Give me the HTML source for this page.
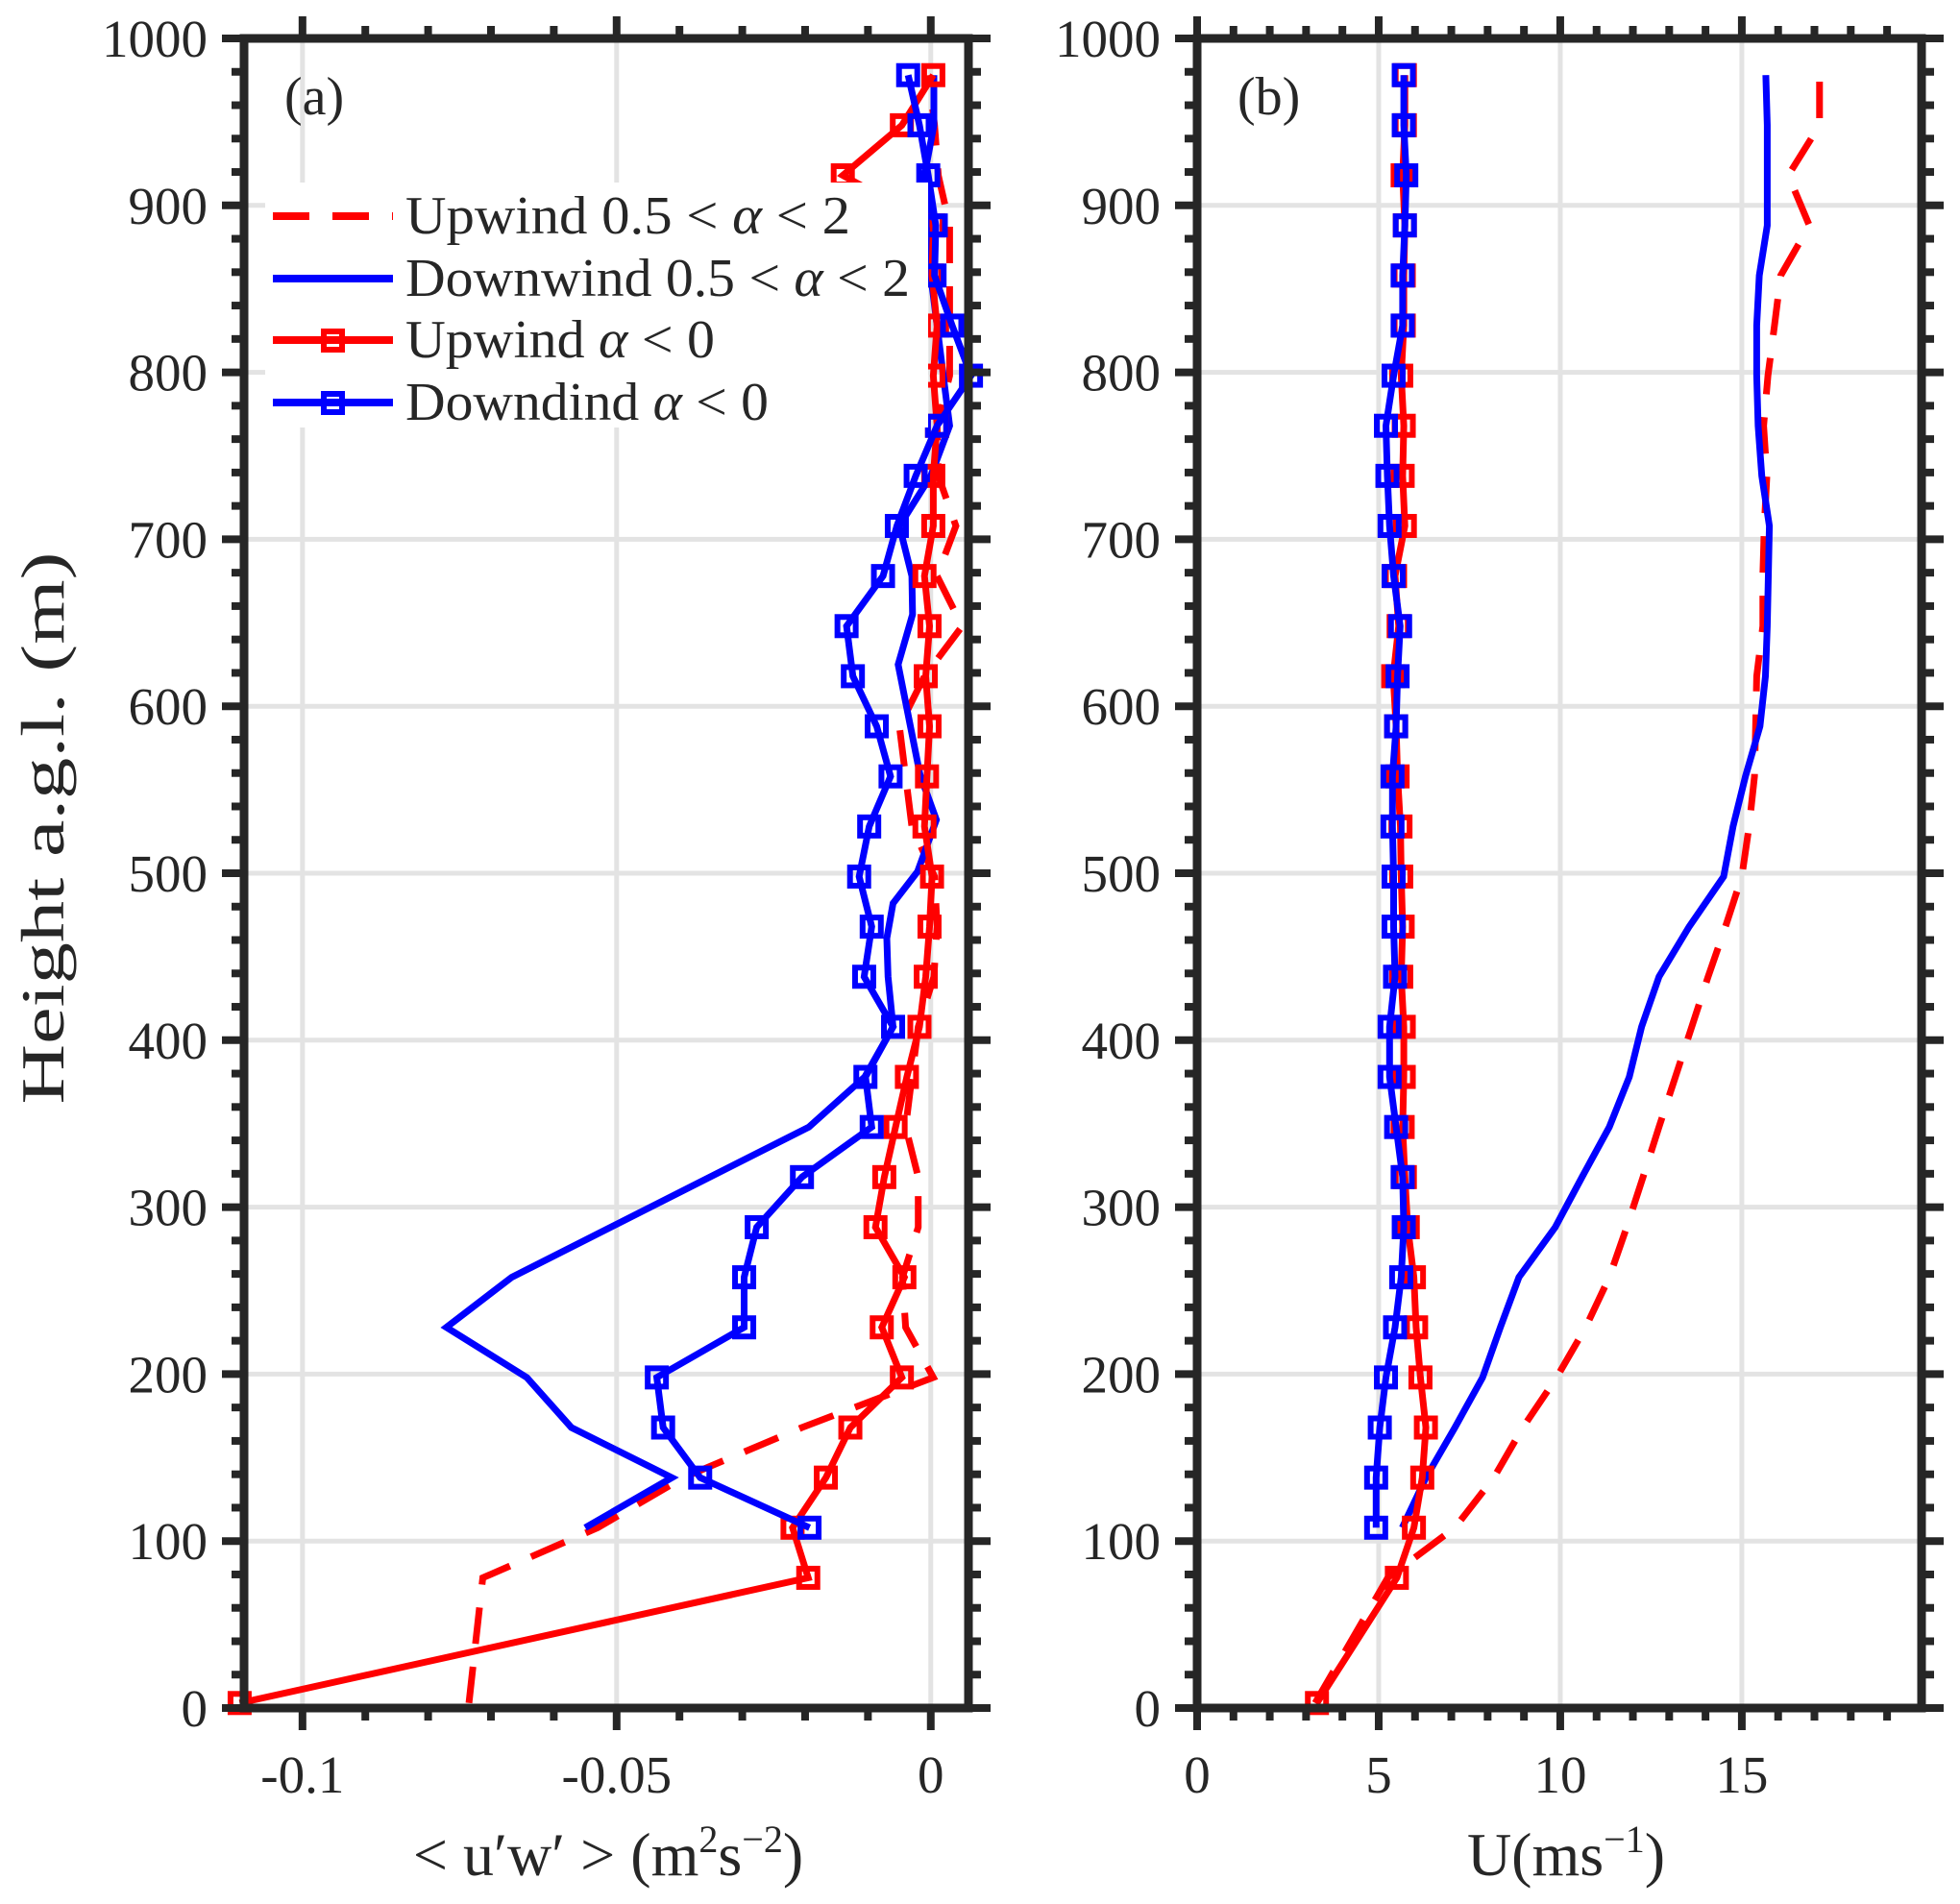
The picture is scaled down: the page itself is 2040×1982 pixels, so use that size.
<!DOCTYPE html>
<html><head><meta charset="utf-8"><style>
html,body{margin:0;padding:0;background:#fff}
svg{display:block}
text{font-family:"Liberation Serif",serif;fill:#262626}
</style></head><body>
<svg id="chart" width="2040" height="1982" viewBox="0 0 2040 1982" xmlns="http://www.w3.org/2000/svg"></svg>
<script>
// ---- data ----
const hMark = [3,78,108,138,168,198,228,258,288,318,348,378,408,438,468,498,528,558,588,618,648,678,708,738,768,798,828,858,888,918,948,978];
const hDown = [108,138,168,198,228,258,288,318,348,378,408,438,468,498,528,558,588,618,648,678,708,738,768,798,828,858,888,918,948,978];
const hSolidA = [108,138,168,198,228,258,348,378,408,438,461,482,501,532,559,625,655,678,708,738,768,798,828,858,888,918,948,978];
const hDashA = [3,78,108,138,168,198,228,258,288,318,348,378,408,438,468,498,528,558,588,618,648,678,708,738,768,798,828,858,888,918,948,978];
// panel a: <u'w'>
const aUpMark = [-0.110,-0.0195,-0.022,-0.0167,-0.0128,-0.0046,-0.0078,-0.0042,-0.0088,-0.0074,-0.0056,-0.0038,-0.0018,-0.0008,-0.0002,0.0002,-0.001,-0.0006,-0.0002,-0.0008,-0.0002,-0.001,0.0004,0.0004,0.001,0.0004,0.001,0.0002,0.0004,-0.014,-0.0046,0.0004];
const aDownMark = [-0.0193,-0.0367,-0.0426,-0.0436,-0.0297,-0.0297,-0.0277,-0.0205,-0.0094,-0.0104,-0.006,-0.0106,-0.0094,-0.0114,-0.0098,-0.0064,-0.0086,-0.0124,-0.0134,-0.0076,-0.0054,-0.0024,0.001,0.0064,0.0034,0.0006,0.0008,-0.0004,-0.0018,-0.0036];
const aDownSolid = [-0.055,-0.0412,-0.0572,-0.0643,-0.0771,-0.0667,-0.0194,-0.0105,-0.006,-0.0068,-0.007,-0.006,-0.0021,0.0009,-0.0017,-0.0052,-0.0029,-0.003,-0.005,0.0,0.003,0.002,0.001,0.0,-0.0003,-0.001,0.0005,0.0005];
const aUpDash = [-0.0735,-0.0713,-0.053,-0.0394,-0.0205,0.0004,-0.004,-0.0045,-0.002,-0.002,-0.004,-0.003,-0.002,0.0005,0.001,0.0006,-0.003,-0.004,-0.005,-0.001,0.005,0.001,0.004,0.0012,0.001,0.003,0.003,0.003,0.003,0.0012,0.0006,-0.0003];
// panel b: U
const bUpMark = [3.3,5.5,5.97,6.2,6.3,6.15,6.03,5.97,5.8,5.72,5.66,5.69,5.69,5.62,5.66,5.62,5.6,5.52,5.48,5.4,5.55,5.45,5.72,5.66,5.69,5.62,5.69,5.69,5.72,5.66,5.72,5.72];
const bDownMark = [4.93,4.93,5.03,5.2,5.45,5.62,5.69,5.66,5.48,5.3,5.3,5.45,5.41,5.41,5.38,5.38,5.48,5.52,5.59,5.41,5.3,5.24,5.2,5.41,5.66,5.66,5.72,5.76,5.69,5.69];
const bDownSolid = [5.65,6.3,7.1,7.86,8.35,8.86,9.86,10.6,11.35,11.9,12.24,12.72,13.55,14.5,14.76,15.1,15.5,15.65,15.7,15.73,15.76,15.55,15.45,15.41,15.41,15.48,15.7,15.7,15.7,15.66];
const bUpDash = [3.25,5.25,7.1,8.17,8.97,9.9,10.7,11.35,11.83,12.28,12.72,13.17,13.62,14.07,14.55,15.0,15.2,15.35,15.38,15.41,15.58,15.58,15.62,15.69,15.6,15.72,15.9,16.07,16.86,16.28,17.14,17.14];
const yTicks = [0,100,200,300,400,500,600,700,800,900,1000];
const aTicks = [-0.1,-0.05,0];
const aTickLabels = ["-0.1","-0.05","0"];
const bTicks = [0,5,10,15];
const bTickLabels = ["0","5","10","15"];

const NS="http://www.w3.org/2000/svg";
const svg=document.getElementById('chart');
function mk(tag,attrs,parent){const e=document.createElementNS(NS,tag);for(const k in attrs)e.setAttribute(k,attrs[k]);(parent||svg).appendChild(e);return e;}

const Y0=1778, Y1=40;
function yS(h){return Y0+(Y1-Y0)*h/1000;}
const panels=[
 {name:'a',L:254,R:1008,xmin:-0.1093,xmax:0.006,ticks:aTicks,labels:aTickLabels,minor:0.01,title:'(a)'},
 {name:'b',L:1246,R:2000,xmin:0,xmax:19.95,ticks:bTicks,labels:bTickLabels,minor:1,title:'(b)'}
];
panels.forEach(p=>{p.x=v=>p.L+(p.R-p.L)*(v-p.xmin)/(p.xmax-p.xmin);});

panels.forEach(p=>{
  const g=mk('g',{});
  
  
  yTicks.forEach(t=>{const l=mk('line',{x1:p.L,x2:p.R,y1:yS(t),y2:yS(t),stroke:'#e3e3e3','stroke-width':5},g);
    
    });
  p.ticks.forEach(t=>{const l=mk('line',{x1:p.x(t),x2:p.x(t),y1:Y0,y2:Y1,stroke:'#e3e3e3','stroke-width':5},g);
    
    });
  p.g=g;
});

function series(p,hs,vs,color,opts,name){
  const pts=hs.map((h,i)=>p.x(vs[i]).toFixed(1)+','+yS(h).toFixed(1)).join(' ');
  const pl=mk('polyline',{points:pts,fill:'none',stroke:color,'stroke-width':opts.w||7,'stroke-linejoin':'miter','stroke-dasharray':opts.dash||'none'},p.g);
  
  
  if(opts.mark){hs.forEach((h,i)=>{const s=19;const r=mk('rect',{x:p.x(vs[i])-s/2,y:yS(h)-s/2,width:s,height:s,fill:'none',stroke:color,'stroke-width':6},p.g);
    
    });}
}
const A=panels[0],B=panels[1];
series(A,hDashA,aUpDash,'#ff0000',{dash:'38,24'},'upwind-0.5-2-line');
series(A,hSolidA,aDownSolid,'#0000ff',{},'downwind-0.5-2-line');
series(A,hMark,aUpMark,'#ff0000',{mark:1},'upwind-alpha-neg-line');
series(A,hDown,aDownMark,'#0000ff',{mark:1},'downwind-alpha-neg-line');
series(B,hMark,bUpDash,'#ff0000',{dash:'38,24'},'upwind-0.5-2-line');
series(B,hDown,bDownSolid,'#0000ff',{},'downwind-0.5-2-line');
series(B,hMark,bUpMark,'#ff0000',{mark:1},'upwind-alpha-neg-line');
series(B,hDown,bDownMark,'#0000ff',{mark:1},'downwind-alpha-neg-line');

panels.forEach(p=>{
  const g=p.g, c='#262626';
  const fr=mk('rect',{x:p.L,y:Y1,width:p.R-p.L,height:Y0-Y1,fill:'none',stroke:c,'stroke-width':9},g);
  
  
  for(let h=0;h<=1000;h+=20){const maj=h%100===0;const len=maj?23:13;const y=yS(h);
    mk('line',{x1:p.L-len,x2:p.L,y1:y,y2:y,stroke:c,'stroke-width':8},g);
    mk('line',{x1:p.R,x2:p.R+len,y1:y,y2:y,stroke:c,'stroke-width':8},g);}
  const start=Math.ceil(p.xmin/p.minor-1e-9);
  for(let k=start;k*p.minor<=p.xmax+1e-9;k++){const v=k*p.minor;const maj=p.ticks.some(t=>Math.abs(t-v)<1e-9);const len=maj?23:13;const x=p.x(v);
    mk('line',{x1:x,x2:x,y1:Y0,y2:Y0+len,stroke:c,'stroke-width':8},g);
    mk('line',{x1:x,x2:x,y1:Y1-len,y2:Y1,stroke:c,'stroke-width':8},g);}
  yTicks.forEach(t=>{const tx=mk('text',{x:p.L-38,y:yS(t)+19,'font-size':55,'text-anchor':'end'},g);tx.textContent=t;
    
    });
  p.ticks.forEach((t,i)=>{const tx=mk('text',{x:p.x(t),y:1866,'font-size':55,'text-anchor':'middle'},g);tx.textContent=p.labels[i];
    
    });
  const pt=mk('text',{x:p.L+42,y:119,'font-size':56},g);pt.textContent=p.title;
  
  
});
</script>
<div style="position:absolute;left:0;top:0;width:2040px;height:1982px;pointer-events:none">
<svg width="2040" height="1982" style="position:absolute;left:0;top:0">
  <g font-family="Liberation Serif, serif" font-size="56" fill="#000">
    <rect x="276" y="190" width="690" height="255" fill="#fff"/>
    <g>
      <line x1="284" x2="409" y1="225" y2="225" stroke="#ff0000" stroke-width="8" stroke-dasharray="38,24"/>
      <text x="422" y="243" textLength="463" lengthAdjust="spacingAndGlyphs">Upwind 0.5 &lt; <tspan font-style="italic">α</tspan> &lt; 2</text>
    </g>
    <g>
      <line x1="284" x2="409" y1="290" y2="290" stroke="#0000ff" stroke-width="8"/>
      <text x="422" y="308" textLength="525" lengthAdjust="spacingAndGlyphs">Downwind 0.5 &lt; <tspan font-style="italic">α</tspan> &lt; 2</text>
    </g>
    <g>
      <line x1="284" x2="409" y1="354" y2="354" stroke="#ff0000" stroke-width="8"/>
      <rect x="337" y="345" width="19" height="19" fill="none" stroke="#ff0000" stroke-width="6"/>
      <text x="422" y="372" textLength="322" lengthAdjust="spacingAndGlyphs">Upwind <tspan font-style="italic">α</tspan> &lt; 0</text>
    </g>
    <g>
      <line x1="284" x2="409" y1="419" y2="419" stroke="#0000ff" stroke-width="8"/>
      <rect x="337" y="410" width="19" height="19" fill="none" stroke="#0000ff" stroke-width="6"/>
      <text x="422" y="437" textLength="378" lengthAdjust="spacingAndGlyphs">Downdind <tspan font-style="italic">α</tspan> &lt; 0</text>
    </g>
  </g>
  <text x="0" y="0" font-family="Liberation Serif, serif" font-size="64" fill="#262626" text-anchor="middle" textLength="575" lengthAdjust="spacingAndGlyphs" transform="translate(66,862) rotate(-90)">Height a.g.l. (m)</text>
  <text x="633" y="1952" font-family="Liberation Serif, serif" font-size="64" fill="#262626" text-anchor="middle">&lt; u′w′ &gt; (m<tspan font-size="40" dy="-24">2</tspan><tspan dy="24">s</tspan><tspan font-size="40" dy="-24">−2</tspan><tspan dy="24">)</tspan></text>
  <text x="1630" y="1952" font-family="Liberation Serif, serif" font-size="64" fill="#262626" text-anchor="middle">U(ms<tspan font-size="40" dy="-24">−1</tspan><tspan dy="24">)</tspan></text>
</svg>
</div>
</body></html>
